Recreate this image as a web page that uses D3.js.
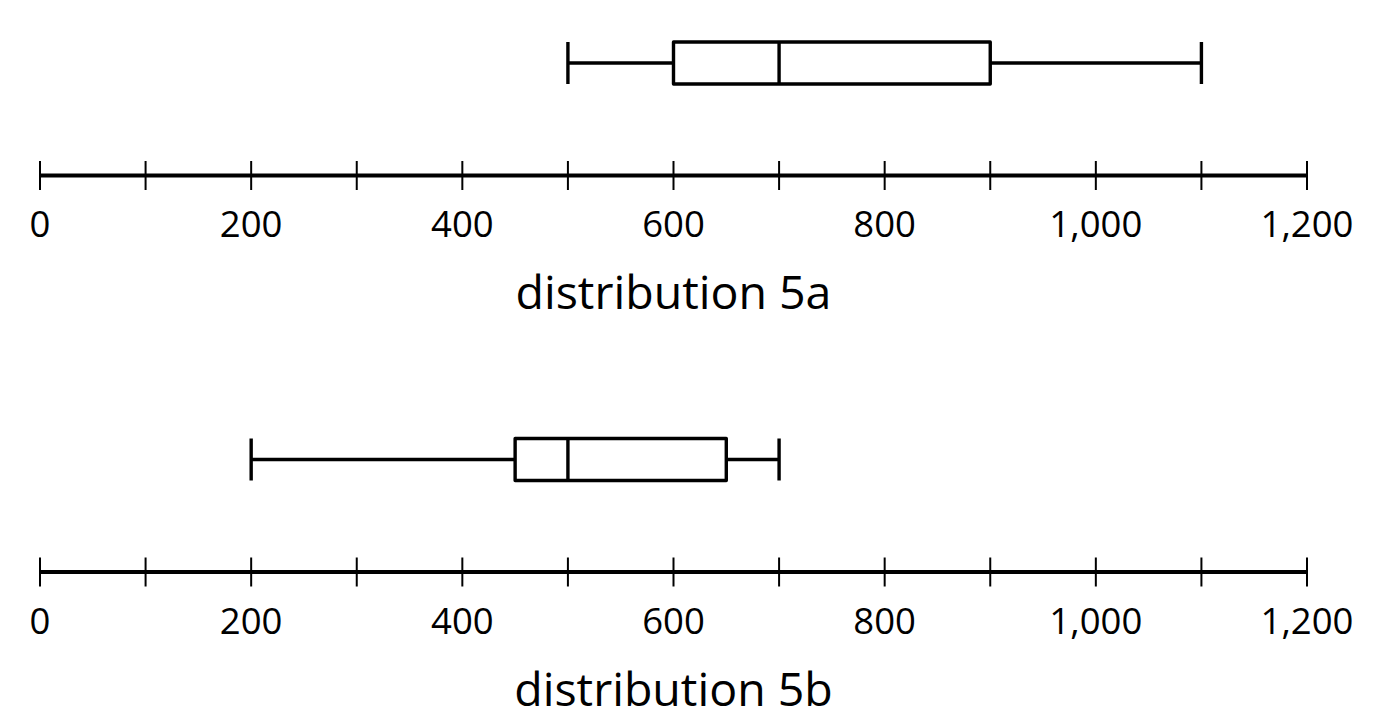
<!DOCTYPE html>
<html lang="en">
  <head>
    <meta charset="UTF-8" />
    <title>Distributions 5a and 5b</title>
    <script src="https://d3js.org/d3.v7.min.js"></script>
    <style>
      body {
        margin: 0;
        padding: 0;
        background: #fff;
      }
      svg {
        display: block;
      }
      .tick-label {
        font-family: "Open Sans", sans-serif;
        font-size: 36.5px;
        fill: #000;
      }
      .title {
        font-family: "Open Sans", sans-serif;
        font-size: 46.5px;
        fill: #000;
      }
    </style>
  </head>
  <body>
    <svg width="1394" height="717"></svg>
    <script>
      // data
      const names = ["distribution 5a", "distribution 5b"];
      const mins = [500, 200];
      const q1s = [600, 450];
      const medians = [700, 500];
      const q3s = [900, 650];
      const maxs = [1100, 700];
      const tickValues = [0, 100, 200, 300, 400, 500, 600, 700, 800, 900, 1000, 1100, 1200];
      const labelValues = [0, 200, 400, 600, 800, 1000, 1200];

      const width = 1394,
        height = 717;
      const svg = d3.select("svg");

      const x = d3.scaleLinear().domain([0, 1200]).range([40, 1307]);
      const fmt = d3.format(",");

      const panelOffset = 396.5;
      const boxTop = 42,
        boxH = 42,
        axisY = 175.5,
        labelY = 237,
        titleY = 309;
      const lw = 3.4;

      names.forEach((name, i) => {
        const g = svg.append("g").attr("transform", `translate(0,${i * panelOffset})`);
        const mid = boxTop + boxH / 2;

        // whiskers
        g.append("line")
          .attr("x1", x(mins[i]))
          .attr("x2", x(q1s[i]))
          .attr("y1", mid)
          .attr("y2", mid)
          .attr("stroke", "#000")
          .attr("stroke-width", lw);
        g.append("line")
          .attr("x1", x(q3s[i]))
          .attr("x2", x(maxs[i]))
          .attr("y1", mid)
          .attr("y2", mid)
          .attr("stroke", "#000")
          .attr("stroke-width", lw);
        [mins[i], maxs[i]].forEach((v) => {
          g.append("line")
            .attr("x1", x(v))
            .attr("x2", x(v))
            .attr("y1", boxTop)
            .attr("y2", boxTop + boxH)
            .attr("stroke", "#000")
            .attr("stroke-width", lw);
        });

        // box
        g.append("rect")
          .attr("x", x(q1s[i]))
          .attr("y", boxTop)
          .attr("width", x(q3s[i]) - x(q1s[i]))
          .attr("height", boxH)
          .attr("fill", "#fff")
          .attr("stroke", "#000")
          .attr("stroke-width", lw)
          .attr("stroke-linejoin", "round");
        g.append("line")
          .attr("x1", x(medians[i]))
          .attr("x2", x(medians[i]))
          .attr("y1", boxTop)
          .attr("y2", boxTop + boxH)
          .attr("stroke", "#000")
          .attr("stroke-width", lw);

        // axis
        g.append("line")
          .attr("x1", x(0))
          .attr("x2", x(1200))
          .attr("y1", axisY)
          .attr("y2", axisY)
          .attr("stroke", "#000")
          .attr("stroke-width", 4);
        g.selectAll(".tick")
          .data(tickValues)
          .join("line")
          .attr("class", "tick")
          .attr("x1", (d) => x(d))
          .attr("x2", (d) => x(d))
          .attr("y1", axisY - 14.5)
          .attr("y2", axisY + 14.5)
          .attr("stroke", "#000")
          .attr("stroke-width", 2);
        g.selectAll(".tick-label")
          .data(labelValues)
          .join("text")
          .attr("class", "tick-label")
          .attr("x", (d) => x(d))
          .attr("y", labelY)
          .attr("text-anchor", "middle")
          .text((d) => fmt(d));

        g.append("text")
          .attr("class", "title")
          .attr("x", (x(0) + x(1200)) / 2)
          .attr("y", titleY)
          .attr("text-anchor", "middle")
          .text(name);
      });
    </script>
  </body>
</html>
